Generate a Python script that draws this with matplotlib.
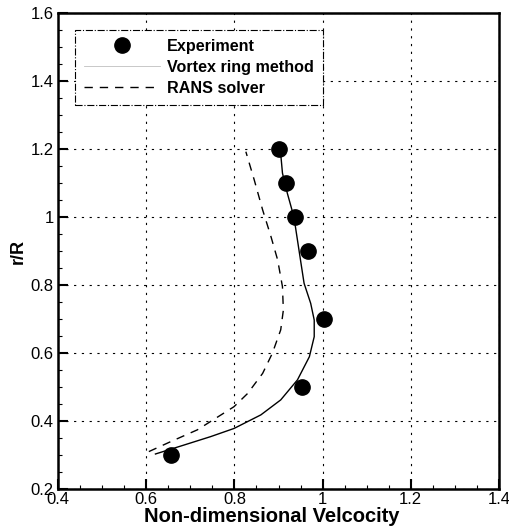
import matplotlib
matplotlib.use("Agg")
import matplotlib.pyplot as plt
from matplotlib.ticker import MultipleLocator
from matplotlib.lines import Line2D

plt.rcParams['font.family'] = ['Liberation Sans', 'DejaVu Sans']

# Experiment data
exp_v = [0.901, 0.918, 0.937, 0.966, 1.004, 0.953, 0.657]
exp_r = [1.2, 1.1, 1.0, 0.9, 0.7, 0.5, 0.3]

# Vortex ring method (solid)
vr_v = [0.621, 0.685, 0.746, 0.799, 0.860, 0.905, 0.943, 0.970, 0.981, 0.981,
        0.973, 0.958, 0.951, 0.943, 0.935, 0.920, 0.909, 0.904]
vr_r = [0.303, 0.329, 0.354, 0.378, 0.418, 0.462, 0.521, 0.589, 0.648, 0.697,
        0.746, 0.805, 0.864, 0.932, 1.000, 1.070, 1.129, 1.200]

# RANS solver (dashed)
rans_v = [0.606, 0.655, 0.716, 0.799, 0.830, 0.864, 0.886, 0.905, 0.911, 0.909,
          0.898, 0.883, 0.864, 0.845, 0.826]
rans_r = [0.310, 0.339, 0.374, 0.442, 0.481, 0.540, 0.599, 0.668, 0.726, 0.795,
          0.874, 0.942, 1.021, 1.109, 1.192]

xticks = [0.4, 0.6, 0.8, 1.0, 1.2, 1.4]
xtick_labels = ['0.4', '0.6', '0.8', '1', '1.2', '1.4']
yticks = [0.2, 0.4, 0.6, 0.8, 1.0, 1.2, 1.4, 1.6]
ytick_labels = ['0.2', '0.4', '0.6', '0.8', '1', '1.2', '1.4', '1.6']

fig = plt.figure(figsize=(5.09, 5.31), dpi=100)
ax = fig.add_axes([58/509, 1-489/531, (499-58)/509, (489-13)/531])

ax.plot(vr_v, vr_r, color='black', lw=1.0, zorder=3)
ax.plot(rans_v, rans_r, color='black', lw=1.0, dashes=(6, 5), zorder=3)
ax.plot(exp_v, exp_r, 'o', color='black', markersize=11, zorder=4)

ax.set_xlim(0.4, 1.4)
ax.set_ylim(0.2, 1.6)
ax.set_xticks(xticks)
ax.set_xticklabels(xtick_labels)
ax.set_yticks(yticks)
ax.set_yticklabels(ytick_labels)
ax.xaxis.set_minor_locator(MultipleLocator(0.05))
ax.yaxis.set_minor_locator(MultipleLocator(0.05))
ax.tick_params(which='major', direction='in', length=7, width=1.5, labelsize=12, pad=3)
ax.tick_params(axis='x', which='major', pad=2)
ax.tick_params(which='minor', direction='in', length=3, width=0.8)
ax.grid(True, which='major', color='black', lw=0.8, linestyle=(0, (2, 5)))
for s in ax.spines.values():
    s.set_linewidth(1.8)

ax.set_xlabel('Non-dimensional Velcocity', fontsize=14.5, fontweight='bold', labelpad=0)
ax.xaxis.set_label_coords(0.485, -0.038)
ax.set_ylabel('r/R', fontsize=13, fontweight='bold', labelpad=3)

handles = [
    Line2D([], [], linestyle='none', marker='o', color='black', markersize=11),
    Line2D([], [], color='black', lw=0.6, alpha=0.25),
    Line2D([], [], color='black', lw=1.0, dashes=(6, 5)),
]
labels = ['Experiment', 'Vortex ring method', 'RANS solver']
leg = ax.legend(handles, labels, loc='upper left',
                bbox_to_anchor=((75-58)/441, (489-30)/476),
                prop={'weight': 'bold', 'size': 11.6},
                handlelength=4.7, handletextpad=0.45, labelspacing=0.38,
                borderpad=0.55, borderaxespad=0, fancybox=False, framealpha=1)
fr = leg.get_frame()
fr.set_edgecolor('black')
fr.set_linestyle('-.')
fr.set_linewidth(0.8)

fig.savefig('out.png', dpi=100)
